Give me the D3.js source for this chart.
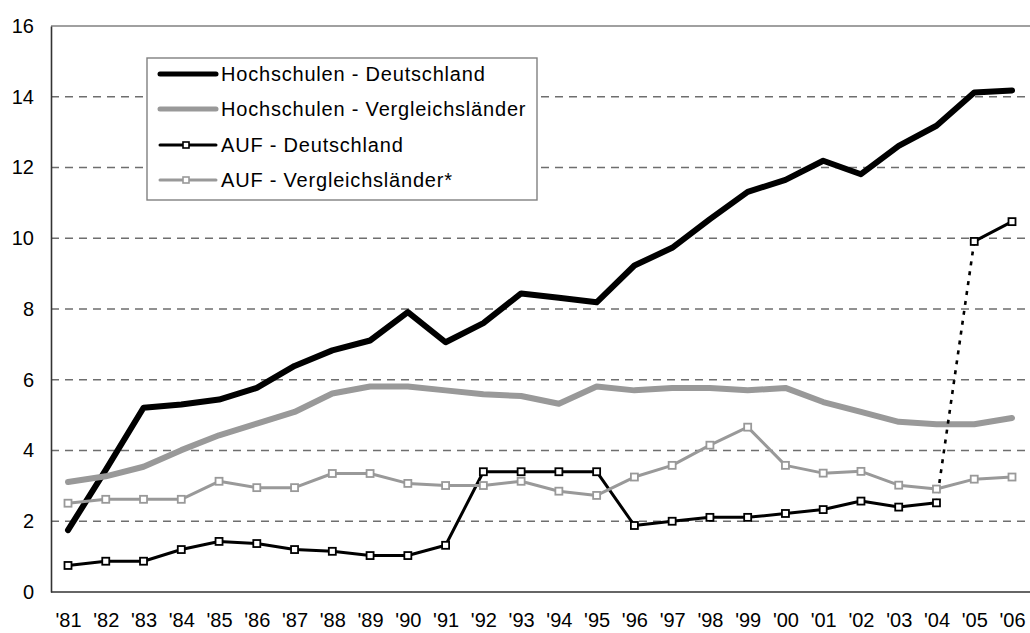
<!DOCTYPE html>
<html>
<head>
<meta charset="utf-8">
<script src="https://cdn.jsdelivr.net/npm/d3@7"></script>
<style>
  html, body { margin: 0; padding: 0; background: #fff; }
  svg { display: block; font-family: "Liberation Sans", Arial, sans-serif; }
</style>
</head>
<body>
<svg id="chart" width="1030" height="633"></svg>
<script>
// Jahre (x-Achse)
const years = ["'81","'82","'83","'84","'85","'86","'87","'88","'89","'90","'91","'92","'93",
               "'94","'95","'96","'97","'98","'99","'00","'01","'02","'03","'04","'05","'06"];

// Hochschulen - Deutschland
const hsDeutschland = [1.75, 3.45, 5.21, 5.30, 5.44, 5.77, 6.39, 6.83, 7.11, 7.91, 7.06, 7.60, 8.44,
                       8.32, 8.19, 9.23, 9.73, 10.54, 11.31, 11.65, 12.19, 11.81, 12.61, 13.18, 14.12, 14.18];
// Hochschulen - Vergleichsländer
const hsVergleich = [3.11, 3.27, 3.54, 4.01, 4.43, 4.76, 5.09, 5.61, 5.81, 5.81, 5.70, 5.59, 5.54,
                     5.32, 5.81, 5.70, 5.77, 5.77, 5.70, 5.77, 5.37, 5.09, 4.81, 4.74, 4.74, 4.92];
// AUF - Deutschland
const aufDeutschland = [0.75, 0.87, 0.87, 1.20, 1.43, 1.37, 1.20, 1.15, 1.03, 1.03, 1.32, 3.40, 3.40,
                        3.40, 3.40, 1.88, 2.00, 2.11, 2.11, 2.22, 2.33, 2.57, 2.40, 2.52, 9.91, 10.47];
// AUF - Vergleichsländer*
const aufVergleich = [2.51, 2.62, 2.62, 2.62, 3.13, 2.95, 2.95, 3.35, 3.35, 3.07, 3.01, 3.01, 3.13,
                      2.85, 2.73, 3.25, 3.58, 4.15, 4.66, 3.58, 3.36, 3.41, 3.02, 2.91, 3.19, 3.25];

// Bruch in der AUF-Reihe zwischen diesen beiden Jahren (gepunktet)
const aufBreak = ["'04", "'05"];

const yTicks = [0, 2, 4, 6, 8, 10, 12, 14, 16];

const series = [
  { name: "Hochschulen - Deutschland",     values: hsDeutschland,  color: "#000000", width: 6, markers: false },
  { name: "Hochschulen - Vergleichsländer", values: hsVergleich,    color: "#999999", width: 6, markers: false },
  { name: "AUF - Deutschland",              values: aufDeutschland, color: "#000000", width: 3, markers: true, breakAt: aufBreak },
  { name: "AUF - Vergleichsländer*",        values: aufVergleich,   color: "#999999", width: 3, markers: true }
];

const svg = d3.select("#chart");
const plot = { left: 51, top: 26, right: 1030, bottom: 592 };

const x = d3.scalePoint().domain(years).range([68, 1012]);
const y = d3.scaleLinear().domain([0, 16]).range([plot.bottom, plot.top]);

// Gitterlinien
svg.append("g")
  .selectAll("line")
  .data(yTicks.filter(t => t > 0 && t < 16))
  .join("line")
  .attr("x1", plot.left).attr("x2", plot.right)
  .attr("y1", d => y(d)).attr("y2", d => y(d))
  .attr("stroke", "#6e6e6e")
  .attr("stroke-width", 1.3)
  .attr("stroke-dasharray", "8,6");

// Obere Begrenzung
svg.append("line")
  .attr("x1", plot.left).attr("x2", plot.right)
  .attr("y1", y(16)).attr("y2", y(16))
  .attr("stroke", "#808080").attr("stroke-width", 1.5);

// y-Achse
const yAxis = svg.append("g")
  .attr("transform", `translate(${plot.left},0)`)
  .call(d3.axisLeft(y).tickValues(yTicks).tickSize(0).tickPadding(17).tickFormat(d3.format("d")));
yAxis.select(".domain").attr("stroke", "#333").attr("stroke-width", 1.6);
yAxis.selectAll("text").attr("font-size", 20).attr("fill", "#000")
  .attr("font-family", "'Liberation Sans', Arial, sans-serif");

// x-Achse
const xAxis = svg.append("g")
  .attr("transform", `translate(0,${plot.bottom})`)
  .call(d3.axisBottom(x).tickSize(0).tickPadding(21));
xAxis.select(".domain").attr("d", `M${plot.left},0H${plot.right}`).attr("stroke", "#333").attr("stroke-width", 1.6);
xAxis.selectAll("text").attr("font-size", 20).attr("fill", "#000")
  .attr("font-family", "'Liberation Sans', Arial, sans-serif");

const line = d3.line()
  .x(d => x(d.year))
  .y(d => y(d.value))
  .defined(d => d.value != null);

series.forEach(s => {
  const pts = years.map((yr, i) => ({ year: yr, value: s.values[i] }));
  const g = svg.append("g");

  if (s.breakAt) {
    const i0 = years.indexOf(s.breakAt[0]);
    const before = pts.slice(0, i0 + 1);
    const after = pts.slice(i0 + 1);
    const bridge = pts.slice(i0, i0 + 2);
    g.append("path").datum(bridge).attr("d", line)
      .attr("fill", "none").attr("stroke", s.color)
      .attr("stroke-width", 2.6).attr("stroke-dasharray", "4,6");
    [before, after].forEach(seg => {
      g.append("path").datum(seg).attr("d", line)
        .attr("fill", "none").attr("stroke", s.color)
        .attr("stroke-width", s.width).attr("stroke-linejoin", "round").attr("stroke-linecap", "round");
    });
  } else {
    g.append("path").datum(pts).attr("d", line)
      .attr("fill", "none").attr("stroke", s.color)
      .attr("stroke-width", s.width).attr("stroke-linejoin", "round").attr("stroke-linecap", "round");
  }

  if (s.markers) {
    g.selectAll("rect").data(pts).join("rect")
      .attr("x", d => x(d.year) - 3.5).attr("y", d => y(d.value) - 3.5)
      .attr("width", 7).attr("height", 7)
      .attr("fill", "#fff").attr("stroke", s.color).attr("stroke-width", 1.8);
  }
});

// Legende
const legend = svg.append("g");
legend.append("rect")
  .attr("x", 147).attr("y", 58).attr("width", 390).attr("height", 142)
  .attr("fill", "#fff").attr("stroke", "#808080").attr("stroke-width", 1.4);

const rowY = [74, 109, 145, 180];
series.forEach((s, i) => {
  const ly = rowY[i];
  legend.append("line")
    .attr("x1", 160).attr("x2", 216).attr("y1", ly).attr("y2", ly)
    .attr("stroke", s.color).attr("stroke-width", s.markers ? 3 : 5)
    .attr("stroke-linecap", "round");
  if (s.markers) {
    legend.append("rect")
      .attr("x", 186 - 3).attr("y", ly - 3).attr("width", 6).attr("height", 6)
      .attr("fill", "#fff").attr("stroke", s.color).attr("stroke-width", 1.6);
  }
  legend.append("text")
    .attr("x", 221).attr("y", ly + 7)
    .attr("font-size", 20).attr("letter-spacing", "0.8px")
    .attr("fill", "#000")
    .text(s.name);
});
</script>
</body>
</html>
